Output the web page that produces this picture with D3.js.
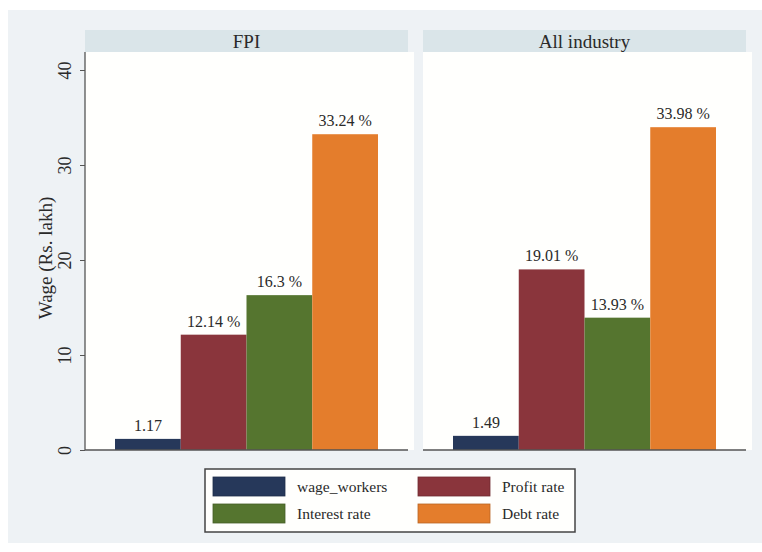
<!DOCTYPE html>
<meta charset="utf-8">
<script src="https://d3js.org/d3.v7.min.js"></script>
<style>
  body { margin: 0; background: #fff; }
  text { font-family: "Liberation Serif", "Times New Roman", serif; fill: #2a2a2a; }
</style>
<div id="chart"></div>
<script>
// data
var panels = ["FPI", "All industry"];
var seriesNames = ["wage_workers", "Profit rate", "Interest rate", "Debt rate"];
var fpiValues = [1.17, 12.14, 16.3, 33.24];
var allIndustryValues = [1.49, 19.01, 13.93, 33.98];
var valueLabels = [["1.17", "12.14 %", "16.3 %", "33.24 %"],
                   ["1.49", "19.01 %", "13.93 %", "33.98 %"]];
var yTicks = [0, 10, 20, 30, 40];
var colors = ["#26385a", "#8a353c", "#55752f", "#e47d2c"];

var W = 762, H = 552;
var svg = d3.select("#chart").append("svg").attr("width", W).attr("height", H);

// graph region
svg.append("rect").attr("x", 8).attr("y", 10).attr("width", 754).attr("height", 533)
  .attr("fill", "#eef2f5");

var y = d3.scaleLinear().domain([0, 40]).range([450, 70]);
var panelX = [85, 423], panelW = 323;
var allValues = [fpiValues, allIndustryValues];

panels.forEach(function(name, i) {
  var g = svg.append("g").attr("transform", "translate(" + panelX[i] + ",0)");
  // header strip
  g.append("rect").attr("x", 0).attr("y", 30).attr("width", panelW).attr("height", 22)
    .attr("fill", "#dae5e9");
  g.append("text").attr("x", panelW / 2).attr("y", 48).attr("text-anchor", "middle")
    .style("font-size", "19px").text(name);
  // plot region
  g.append("rect").attr("x", 0).attr("y", 52).attr("width", panelW + 6).attr("height", 398)
    .attr("fill", "#fffffd");

  var x = d3.scaleBand().domain(seriesNames).range([30, panelW - 30]).padding(0);

  g.selectAll("rect.bar").data(allValues[i]).enter().append("rect")
    .attr("class", "bar")
    .attr("x", function(d, j) { return x(seriesNames[j]); })
    .attr("width", x.bandwidth())
    .attr("y", function(d) { return y(d); })
    .attr("height", function(d) { return y(0) - y(d); })
    .attr("fill", function(d, j) { return colors[j]; });

  g.selectAll("text.lbl").data(allValues[i]).enter().append("text")
    .attr("class", "lbl")
    .attr("x", function(d, j) { return x(seriesNames[j]) + x.bandwidth() / 2; })
    .attr("y", function(d) { return y(d) - 8; })
    .attr("text-anchor", "middle")
    .style("font-size", "16px")
    .text(function(d, j) { return valueLabels[i][j]; });

  // baseline
  g.append("line").attr("x1", 0).attr("x2", panelW).attr("y1", 450).attr("y2", 450)
    .attr("stroke", "#555").attr("stroke-width", 1.3);

  if (i === 0) {
    var ax = g.append("g").call(d3.axisLeft(y).tickValues(yTicks).tickSize(5).tickSizeOuter(0));
    ax.select(".domain").attr("stroke", "#555").attr("stroke-width", 1.3)
      .attr("d", "M0," + y(0) + "V" + 52);
    ax.selectAll(".tick line").attr("stroke", "#555");
    ax.selectAll(".tick text")
      .attr("transform", "translate(-14,0) rotate(-90)")
      .attr("x", 0).attr("dy", "0").attr("text-anchor", "middle")
      .style("font-family", "Liberation Serif").style("font-size", "18px").attr("fill", "#2a2a2a");
  }
});

svg.append("text").attr("transform", "translate(52,258) rotate(-90)")
  .attr("text-anchor", "middle").style("font-size", "19px").text("Wage (Rs. lakh)");

// legend
var lg = svg.append("g");
lg.append("rect").attr("x", 205).attr("y", 469).attr("width", 370).attr("height", 63)
  .attr("fill", "#fffffd").attr("stroke", "#444").attr("stroke-width", 1.5);
var legPos = [[213, 477], [418, 477], [213, 504], [418, 504]];
seriesNames.forEach(function(s, k) {
  var p = legPos[k];
  lg.append("rect").attr("x", p[0]).attr("y", p[1]).attr("width", 72).attr("height", 19)
    .attr("fill", colors[k]).attr("stroke", d3.color(colors[k]).darker(0.6)).attr("stroke-width", 0.8);
  lg.append("text").attr("x", p[0] + 84).attr("y", p[1] + 15)
    .style("font-size", "15.5px").text(s);
});
</script>
